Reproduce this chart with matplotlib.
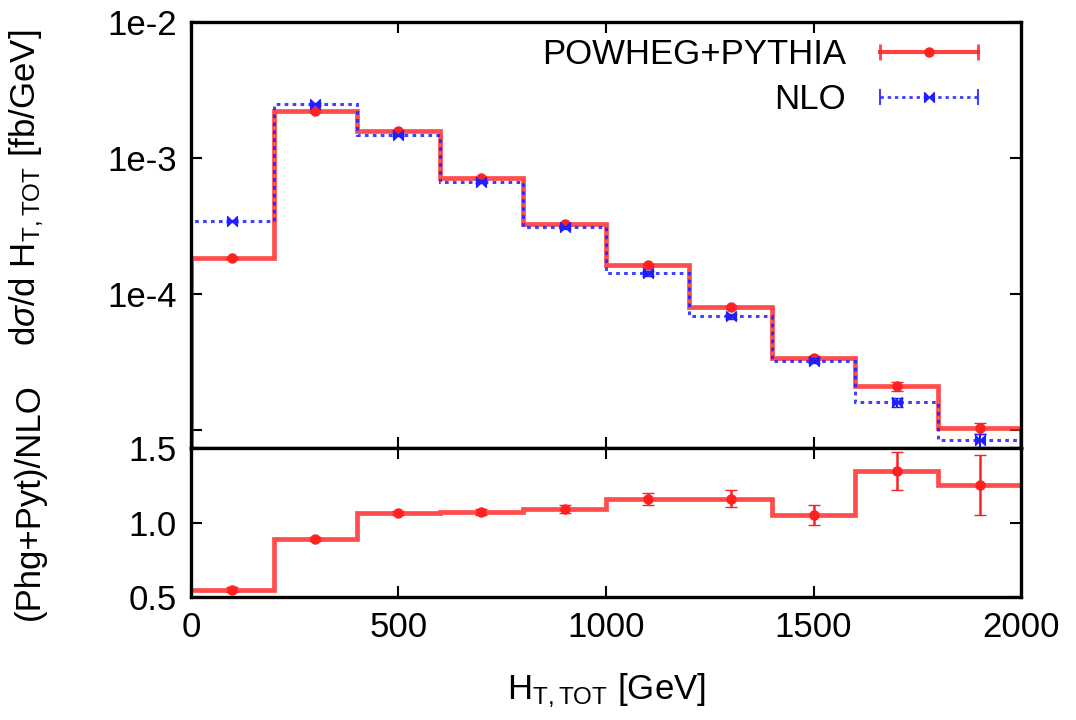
import numpy as np
import matplotlib
matplotlib.use("Agg")
import matplotlib.pyplot as plt
from matplotlib.lines import Line2D
from matplotlib.path import Path
from matplotlib.legend_handler import HandlerLine2D, HandlerTuple

plt.rcParams["font.family"] = ["Liberation Sans", "DejaVu Sans"]
plt.rcParams["mathtext.fontset"] = "custom"
plt.rcParams["mathtext.rm"] = "Liberation Sans"
plt.rcParams["mathtext.it"] = "Liberation Sans:italic"

# H_T,TOT binning [GeV]
bin_edges = [0, 200, 400, 600, 800, 1000, 1200, 1400, 1600, 1800, 2000]
bin_centres = [100, 300, 500, 700, 900, 1100, 1300, 1500, 1700, 1900]

# dsigma/dH_T,TOT [fb/GeV]
powheg_pythia = [1.84e-4, 2.22e-3, 1.58e-3, 7.1e-4, 3.3e-4,
                 1.63e-4, 8.0e-5, 3.4e-5, 2.1e-5, 1.03e-5]
powheg_pythia_err = [3e-6, 3e-5, 2e-5, 1e-5, 6e-6,
                     4e-6, 2e-6, 1.2e-6, 1.5e-6, 1.0e-6]
nlo = [3.45e-4, 2.5e-3, 1.48e-3, 6.7e-4, 3.1e-4,
       1.42e-4, 6.9e-5, 3.25e-5, 1.6e-5, 8.4e-6]
nlo_err = [8e-6, 6e-5, 3e-5, 1.5e-5, 8e-6,
           5e-6, 3e-6, 1.5e-6, 1.2e-6, 0.9e-6]

# (Phg+Pyt)/NLO ratio
ratio = [0.55, 0.89, 1.065, 1.07, 1.09, 1.16, 1.16, 1.05, 1.345, 1.25]
ratio_err = [0.015, 0.012, 0.015, 0.018, 0.025, 0.04, 0.055, 0.07, 0.13, 0.2]

RED = "#ff2020"
BLUE = "#2020ff"
FS = 25
DOTTED = (0, (1.2, 1.4))

# bow-tie point symbol for the NLO series
bowtie = Path([(-1, -1), (-1, 1), (0, 0), (1, 1), (1, -1), (0, 0), (-1, -1)],
              [Path.MOVETO, Path.LINETO, Path.LINETO, Path.LINETO,
               Path.LINETO, Path.LINETO, Path.CLOSEPOLY])

fig = plt.figure(figsize=(10.76, 7.2), dpi=100)
ax1 = fig.add_axes([0.1775, 0.3778, 0.7714, 0.5916])
ax2 = fig.add_axes([0.1775, 0.1708, 0.7714, 0.2070], sharex=ax1)

# upper panel: differential distributions
ax1.stairs(nlo, bin_edges, baseline=1e-7, color=BLUE, lw=2.2,
           linestyle=DOTTED, alpha=0.85, zorder=3)
ax1.errorbar(bin_centres, nlo, yerr=nlo_err, fmt="none", ecolor=BLUE,
             elinewidth=1.5, capsize=4, zorder=4)
ax1.plot(bin_centres, nlo, ls="none", marker=bowtie, ms=7, color=BLUE, zorder=4)

ax1.stairs(powheg_pythia, bin_edges, baseline=1e-7, color=RED, lw=3.4,
           alpha=0.8, zorder=2)
ax1.errorbar(bin_centres, powheg_pythia, yerr=powheg_pythia_err, fmt="none",
             ecolor=RED, elinewidth=1.8, capsize=4, zorder=3)
ax1.plot(bin_centres, powheg_pythia, ls="none", marker="o", ms=6.5, color=RED, zorder=3)

ax1.set_yscale("log")
ax1.set_ylim(7.4e-6, 1e-2)
ax1.set_xlim(0, 2000)
ax1.set_yticks([1e-2, 1e-3, 1e-4, 1e-5])
ax1.set_yticklabels(["1e-2", "1e-3", "1e-4", ""])
ax1.yaxis.set_minor_locator(matplotlib.ticker.NullLocator())
ax1.set_xticks([0, 500, 1000, 1500, 2000])
ax1.tick_params(axis="x", labelbottom=False)
ax1.set_ylabel(r"d$\sigma$/d H$_{\mathrm{T,TOT}}$ [fb/GeV]", fontsize=FS)
ax1.yaxis.set_label_coords(-0.175, 0.61)

# legend: line with end caps plus the point symbol
red_caps = Line2D([], [], color=RED, lw=3, alpha=0.85, marker="|", ms=12, mew=2)
red_pt = Line2D([], [], ls="none", marker="o", ms=6.5, color=RED)
blue_caps = Line2D([], [], color=BLUE, lw=2, linestyle=DOTTED,
                   marker="|", ms=12, mew=1.5, alpha=0.85)
blue_pt = Line2D([], [], ls="none", marker=bowtie, ms=7, color=BLUE)
leg = ax1.legend(
    [(red_caps, red_pt), (blue_caps, blue_pt)],
    ["POWHEG+PYTHIA", "NLO"],
    handler_map={red_caps: HandlerLine2D(numpoints=2),
                 blue_caps: HandlerLine2D(numpoints=2),
                 red_pt: HandlerLine2D(numpoints=1),
                 blue_pt: HandlerLine2D(numpoints=1),
                 tuple: HandlerTuple(ndivide=1)},
    loc="upper right", frameon=False, markerfirst=False, fontsize=FS,
    handlelength=3.4, handletextpad=0.7, labelspacing=0.35,
    borderaxespad=0.0, bbox_to_anchor=(0.977, 0.995),
)
for t in leg.get_texts():
    t.set_ha("right")

# lower panel: ratio
ax2.stairs(ratio, bin_edges, baseline=None, color=RED, lw=3.4, alpha=0.8)
ax2.errorbar(bin_centres, ratio, yerr=ratio_err, fmt="o", ms=6.5, color=RED,
             ecolor=RED, elinewidth=1.8, capsize=4)
ax2.set_ylim(0.5, 1.5)
ax2.set_yticks([0.5, 1.0, 1.5])
ax2.set_yticklabels(["0.5", "1.0", "1.5"])
ax2.set_xticks([0, 500, 1000, 1500, 2000])
ax2.set_xticklabels(["0", "500", "1000", "1500", "2000"])
ax2.set_xlim(0, 2000)
ax2.set_xlabel(r"H$_{\mathrm{T,TOT}}$ [GeV]", fontsize=FS, labelpad=20)
ax2.set_ylabel("(Phg+Pyt)/NLO", fontsize=FS)
ax2.yaxis.set_label_coords(-0.175, 0.64)

for ax in (ax1, ax2):
    for s in ax.spines.values():
        s.set_linewidth(2.4)
        s.set_zorder(10)
    ax.tick_params(which="both", direction="in", top=True, right=True,
                   length=8, width=1.5, labelsize=FS, pad=10)

fig.savefig("out.png", dpi=100)
